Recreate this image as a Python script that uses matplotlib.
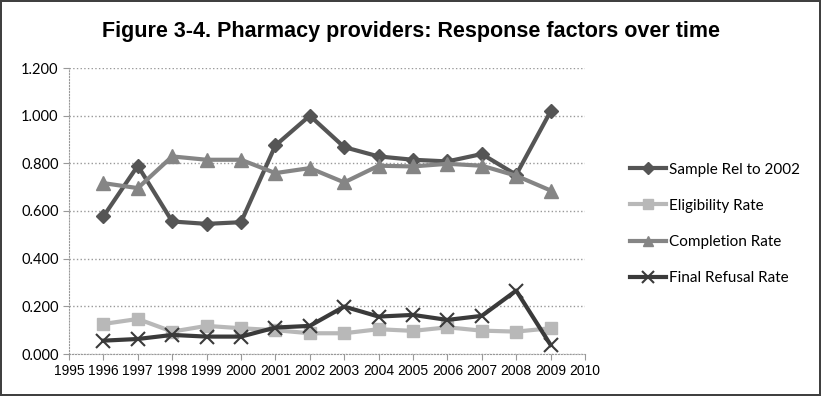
import matplotlib
matplotlib.use('Agg')
import matplotlib.pyplot as plt

years = list(range(1996, 2010))
sample_rel = [0.577, 0.790, 0.556, 0.546, 0.553, 0.875, 1.000, 0.868, 0.829, 0.815, 0.808, 0.839, 0.752, 1.018]
eligibility = [0.126, 0.147, 0.094, 0.118, 0.108, 0.100, 0.087, 0.087, 0.104, 0.097, 0.112, 0.098, 0.094, 0.108]
completion = [0.717, 0.696, 0.829, 0.815, 0.815, 0.759, 0.780, 0.720, 0.790, 0.787, 0.798, 0.790, 0.748, 0.686]
refusal = [0.056, 0.063, 0.080, 0.073, 0.073, 0.111, 0.118, 0.199, 0.157, 0.164, 0.143, 0.160, 0.266, 0.038]
labels = ['Sample Rel to 2002', 'Eligibility Rate', 'Completion Rate', 'Final Refusal Rate']
title = 'Figure 3-4. Pharmacy providers: Response factors over time'

fig = plt.figure(figsize=(8.21, 3.96), dpi=100)
fig.patch.set_edgecolor('#404040')
fig.patch.set_linewidth(1.5)
ax = fig.add_axes([69 / 821, 1 - 354 / 396, (585 - 69) / 821, (354 - 68) / 396])

ax.plot(years, sample_rel, '-D', color='#555555', lw=3, ms=7.5, label=labels[0])
ax.plot(years, eligibility, '-s', color='#b8b8b8', lw=3, ms=9, label=labels[1])
ax.plot(years, completion, '-^', color='#858585', lw=3, ms=9.5, label=labels[2])
ax.plot(years, refusal, '-x', color='#3a3a3a', lw=3, ms=10, mew=1.5, label=labels[3])

ax.set_xlim(1995, 2010)
ax.set_ylim(0, 1.2)
ax.set_xticks(range(1995, 2011))
ax.set_yticks([i * 0.2 for i in range(7)])
ax.set_yticklabels([f'{i * 0.2:.3f}' for i in range(7)])
ax.grid(axis='y', color='#999999', linestyle=':', lw=1)
ax.set_axisbelow(True)
for s in ['top', 'right']:
    ax.spines[s].set_visible(False)
for s in ['left', 'bottom']:
    ax.spines[s].set_color('#999999')
    ax.spines[s].set_linestyle(':')
ax.tick_params(colors='#999999', labelcolor='black', length=4, width=0.8)
for t in ax.get_xticklabels():
    t.set_fontfamily('Liberation Sans')
    t.set_fontsize(10)
for t in ax.get_yticklabels():
    t.set_fontfamily('Lato')
    t.set_fontsize(10.5)

fig.text(0.5, 1 - 32 / 396, title, ha='center', va='center', fontsize=15.5,
         fontweight='bold', family='Liberation Sans')

ax.legend(loc='center left', bbox_to_anchor=(1.06, 0.455), frameon=False,
          prop={'family': 'Lato', 'size': 11}, labelspacing=1.45,
          handlelength=2.4, handletextpad=0.2, markerscale=0.8)

plt.savefig('out.png', dpi=100, edgecolor=fig.get_edgecolor())
